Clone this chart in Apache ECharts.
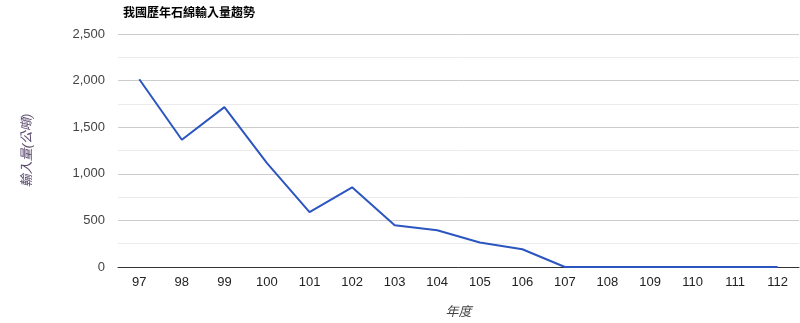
<!DOCTYPE html>
<html>
<head>
<meta charset="utf-8">
<script src="https://cdn.jsdelivr.net/npm/echarts@6/dist/echarts.min.js"></script>
<style>html,body{margin:0;padding:0;background:#fff;}#c{width:800px;height:323px;}</style>
</head>
<body>
<div id="c"></div>
<script>
const titleText = '我國歷年石綿輸入量趨勢';
const categories = ['97','98','99','100','101','102','103','104','105','106','107','108','109','110','111','112'];
const imports = [2015, 1365, 1715, 1115, 588, 855, 447, 395, 262, 190, 0, 0, 0, 0, 0, 0];
const yAxisName = '輸入量(公噸)';
const xAxisName = '年度';

const chart = echarts.init(document.getElementById('c'), null, {renderer: 'canvas'});
chart.setOption({
  animation: false,
  title: {
    text: titleText, left: 118, top: 3,
    textStyle: {fontSize: 12, fontWeight: 'bold', color: '#000', fontFamily: 'Arial, "Noto Sans CJK TC", sans-serif'}
  },
  grid: {left: 118, right: 1, top: 34, bottom: 56, containLabel: false, outerBoundsMode: 'none'},
  xAxis: {
    type: 'category', data: categories, boundaryGap: true,
    name: xAxisName, nameLocation: 'middle', nameGap: 39,
    nameTextStyle: {fontStyle: 'italic', color: '#444', fontSize: 13, fontFamily: 'Arial, "Noto Sans CJK TC", sans-serif'},
    axisLine: {show: true, onZero: true, lineStyle: {color: '#333', width: 1}},
    axisTick: {show: false},
    axisLabel: {color: '#222', fontSize: 13, margin: 9, fontFamily: 'Arial, sans-serif'}
  },
  yAxis: {
    type: 'value', min: 0, max: 2500, interval: 500,
    name: yAxisName, nameLocation: 'middle', nameGap: 84, nameRotate: 90,
    nameTextStyle: {fontStyle: 'italic', color: '#5b4a6e', fontSize: 13, fontFamily: 'Arial, "Noto Sans CJK TC", sans-serif'},
    axisLine: {show: false}, axisTick: {show: false},
    axisLabel: {color: '#444', fontSize: 13, margin: 13, fontFamily: 'Arial, sans-serif',
      formatter: v => v.toLocaleString('en-US')},
    splitLine: {lineStyle: {color: '#cccccc', width: 1}},
    minorTick: {show: false, splitNumber: 2},
    minorSplitLine: {show: true, lineStyle: {color: '#ebebeb', width: 1}}
  },
  series: [{
    type: 'line', data: imports, symbol: 'none',
    lineStyle: {color: '#2b56c0', width: 2},
    itemStyle: {color: '#2b56c0'}
  }]
});
</script>
</body>
</html>
